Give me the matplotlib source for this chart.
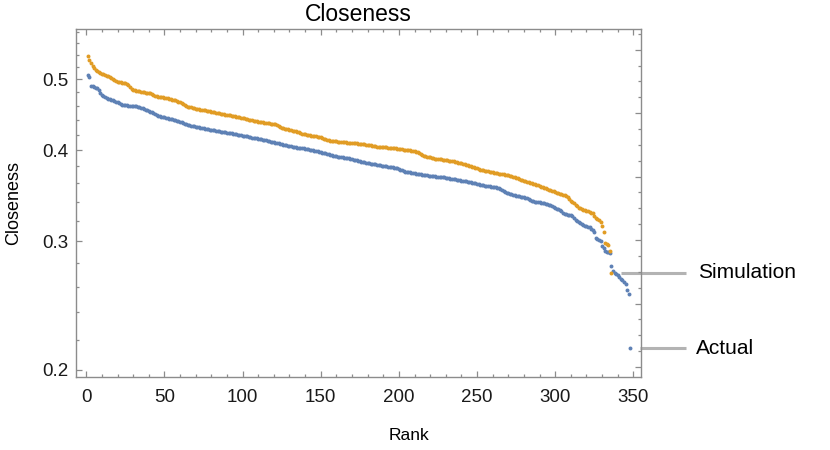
import numpy as np
import matplotlib
matplotlib.use("Agg")
import matplotlib.pyplot as plt
from matplotlib.ticker import FixedLocator, NullFormatter

plt.rcParams['font.family'] = ['Liberation Sans', 'DejaVu Sans']

title = "Closeness"
x_label = "Rank"
y_label = "Closeness"
series_names = ["Actual", "Simulation"]

simulation = [
    0.538, 0.532, 0.526, 0.521, 0.518, 0.515, 0.513, 0.511, 0.510, 0.509,
    0.508, 0.507, 0.506, 0.505, 0.5035, 0.502, 0.5005, 0.4995, 0.498, 0.4965,
    0.4955, 0.495, 0.4945, 0.494, 0.4937, 0.4932, 0.491, 0.488, 0.485, 0.4835,
    0.4828, 0.4822, 0.4817, 0.4812, 0.4808, 0.4804, 0.480, 0.4796, 0.4791, 0.4786,
    0.4782, 0.477, 0.4755, 0.4744, 0.474, 0.4735, 0.4731, 0.4727, 0.4722, 0.4718,
    0.4713, 0.4708, 0.4703, 0.4697, 0.4691, 0.4686, 0.4682, 0.4672, 0.466, 0.4648,
    0.4636, 0.4625, 0.4612, 0.4598, 0.4588, 0.458, 0.4575, 0.4569, 0.4563, 0.4557,
    0.4551, 0.4548, 0.4544, 0.454, 0.4537, 0.4533, 0.4529, 0.4525, 0.452, 0.4515,
    0.4510, 0.4505, 0.4499, 0.4494, 0.4490, 0.4486, 0.4482, 0.4478, 0.4474, 0.4470,
    0.4466, 0.4462, 0.4458, 0.4454, 0.4450, 0.4445, 0.4441, 0.4436, 0.4431, 0.4426,
    0.4420, 0.4413, 0.4406, 0.4400, 0.4396, 0.4392, 0.4388, 0.4384, 0.4381, 0.4377,
    0.4373, 0.4369, 0.4365, 0.4361, 0.4358, 0.4355, 0.4351, 0.4348, 0.4344, 0.4340,
    0.4336, 0.4325, 0.4313, 0.4302, 0.4292, 0.4284, 0.4279, 0.4274, 0.4269, 0.4264,
    0.4259, 0.4254, 0.4249, 0.4243, 0.4235, 0.4228, 0.4221, 0.4214, 0.4208, 0.4204,
    0.4200, 0.4196, 0.4192, 0.4188, 0.4184, 0.4180, 0.4176, 0.4173, 0.4168, 0.4162,
    0.4155, 0.4148, 0.4141, 0.4134, 0.4127, 0.4121, 0.4117, 0.4115, 0.4113, 0.4111,
    0.4109, 0.4107, 0.4105, 0.4102, 0.4100, 0.4098, 0.4096, 0.4094, 0.4092, 0.4090,
    0.4088, 0.4086, 0.4084, 0.4082, 0.4080, 0.4078, 0.4075, 0.4072, 0.4069, 0.4066,
    0.4063, 0.4060, 0.4056, 0.4053, 0.4049, 0.4045, 0.4043, 0.4041, 0.4039, 0.4037,
    0.4035, 0.4033, 0.4031, 0.4029, 0.4027, 0.4025, 0.4023, 0.4020, 0.4017, 0.4014,
    0.4012, 0.4009, 0.4006, 0.4003, 0.4000, 0.3997, 0.3995, 0.3993, 0.3988, 0.3983,
    0.3978, 0.3973, 0.3962, 0.3950, 0.3939, 0.3929, 0.3924, 0.3919, 0.3913, 0.3908,
    0.3903, 0.3898, 0.3895, 0.3892, 0.3890, 0.3887, 0.3884, 0.3881, 0.3878, 0.3875,
    0.3872, 0.3869, 0.3866, 0.3863, 0.3859, 0.3856, 0.3851, 0.3846, 0.3841, 0.3836,
    0.3831, 0.3826, 0.3821, 0.3817, 0.3810, 0.3803, 0.3796, 0.3789, 0.3782, 0.3775,
    0.3768, 0.3762, 0.3757, 0.3753, 0.3749, 0.3745, 0.3741, 0.3737, 0.3733, 0.3729,
    0.3726, 0.3722, 0.3718, 0.3715, 0.3711, 0.3707, 0.3704, 0.3700, 0.3697, 0.3693,
    0.3690, 0.3686, 0.3679, 0.3672, 0.3665, 0.3658, 0.3651, 0.3644, 0.3638, 0.3632,
    0.3626, 0.3620, 0.3614, 0.3608, 0.3602, 0.3596, 0.3591, 0.3584, 0.3578, 0.3571,
    0.3565, 0.3558, 0.3552, 0.3545, 0.3539, 0.3532, 0.3525, 0.3518, 0.3511, 0.3504,
    0.3497, 0.3491, 0.3485, 0.3479, 0.3473, 0.3467, 0.3461, 0.3445, 0.3428, 0.3410,
    0.3395, 0.3380, 0.3365, 0.3350, 0.3336, 0.3329, 0.3322, 0.3315, 0.3309, 0.3302,
    0.3297, 0.3291, 0.3285, 0.3279, 0.3250, 0.3229, 0.3215, 0.3205, 0.3186, 0.3150,
    0.3090, 0.2988, 0.2978, 0.2970, 0.2909, 0.2716,
]

actual = [
    0.5068, 0.5032, 0.4900, 0.4890, 0.4878, 0.4867, 0.4858, 0.4830, 0.4795, 0.4759,
    0.4742, 0.4725, 0.4709, 0.4701, 0.4694, 0.4686, 0.4678, 0.4670, 0.4660, 0.4648,
    0.4636, 0.4624, 0.4618, 0.4613, 0.4608, 0.4604, 0.4600, 0.4597, 0.4595, 0.4593,
    0.4591, 0.4589, 0.4586, 0.4578, 0.4570, 0.4562, 0.4554, 0.4545, 0.4535, 0.4525,
    0.4515, 0.4504, 0.4491, 0.4479, 0.4466, 0.4454, 0.4449, 0.4444, 0.4439, 0.4433,
    0.4428, 0.4423, 0.4418, 0.4412, 0.4406, 0.4401, 0.4395, 0.4389, 0.4384, 0.4376,
    0.4367, 0.4358, 0.4349, 0.4339, 0.4330, 0.4325, 0.4320, 0.4315, 0.4310, 0.4305,
    0.4300, 0.4297, 0.4292, 0.4288, 0.4284, 0.4280, 0.4275, 0.4271, 0.4267, 0.4264,
    0.4260, 0.4256, 0.4252, 0.4249, 0.4245, 0.4241, 0.4238, 0.4234, 0.4230, 0.4227,
    0.4223, 0.4219, 0.4216, 0.4212, 0.4208, 0.4204, 0.4200, 0.4196, 0.4192, 0.4188,
    0.4184, 0.4179, 0.4175, 0.4171, 0.4166, 0.4161, 0.4156, 0.4152, 0.4149, 0.4145,
    0.4142, 0.4139, 0.4135, 0.4131, 0.4124, 0.4118, 0.4113, 0.4108, 0.4103, 0.4098,
    0.4093, 0.4088, 0.4084, 0.4079, 0.4074, 0.4070, 0.4066, 0.4061, 0.4057, 0.4052,
    0.4048, 0.4043, 0.4038, 0.4035, 0.4032, 0.4029, 0.4026, 0.4023, 0.4020, 0.4016,
    0.4013, 0.4010, 0.4006, 0.4001, 0.3997, 0.3993, 0.3988, 0.3984, 0.3979, 0.3974,
    0.3969, 0.3963, 0.3958, 0.3953, 0.3947, 0.3942, 0.3937, 0.3931, 0.3926, 0.3923,
    0.3919, 0.3916, 0.3913, 0.3910, 0.3907, 0.3904, 0.3900, 0.3896, 0.3891, 0.3886,
    0.3881, 0.3876, 0.3871, 0.3866, 0.3861, 0.3856, 0.3852, 0.3848, 0.3845, 0.3841,
    0.3837, 0.3834, 0.3830, 0.3826, 0.3823, 0.3820, 0.3816, 0.3813, 0.3809, 0.3806,
    0.3802, 0.3799, 0.3796, 0.3793, 0.3790, 0.3787, 0.3784, 0.3781, 0.3778, 0.3771,
    0.3762, 0.3753, 0.3744, 0.3736, 0.3733, 0.3730, 0.3727, 0.3724, 0.3720, 0.3717,
    0.3713, 0.3710, 0.3707, 0.3704, 0.3702, 0.3699, 0.3696, 0.3693, 0.3691, 0.3688,
    0.3686, 0.3684, 0.3682, 0.3680, 0.3679, 0.3677, 0.3675, 0.3673, 0.3671, 0.3668,
    0.3664, 0.3660, 0.3656, 0.3653, 0.3650, 0.3647, 0.3644, 0.3641, 0.3637, 0.3634,
    0.3631, 0.3628, 0.3625, 0.3621, 0.3617, 0.3612, 0.3608, 0.3604, 0.3600, 0.3596,
    0.3591, 0.3587, 0.3583, 0.3580, 0.3577, 0.3575, 0.3572, 0.3569, 0.3566, 0.3563,
    0.3560, 0.3557, 0.3554, 0.3545, 0.3535, 0.3525, 0.3515, 0.3505, 0.3497, 0.3491,
    0.3486, 0.3481, 0.3476, 0.3471, 0.3466, 0.3461, 0.3457, 0.3453, 0.3449, 0.3445,
    0.3441, 0.3437, 0.3430, 0.3421, 0.3412, 0.3404, 0.3400, 0.3397, 0.3395, 0.3392,
    0.3389, 0.3386, 0.3383, 0.3378, 0.3372, 0.3367, 0.3361, 0.3356, 0.3346, 0.3336,
    0.3326, 0.3317, 0.3310, 0.3296, 0.3283, 0.3271, 0.3267, 0.3263, 0.3259, 0.3255,
    0.3251, 0.3230, 0.3210, 0.3200, 0.3190, 0.3180, 0.3170, 0.3159, 0.3153, 0.3147,
    0.3141, 0.3136, 0.3120, 0.3105, 0.3093, 0.3030, 0.3018, 0.3010, 0.3002, 0.2957,
    0.2935, 0.2912, 0.2905, 0.2897, 0.2889, 0.2776, 0.2730, 0.2715, 0.2705, 0.2695,
    0.2680, 0.2668, 0.2656, 0.2640, 0.2623, 0.2570, 0.2545, 0.2140,
]

x_major = [0, 50, 100, 150, 200, 250, 300, 350]
x_minor = list(range(0, 360, 10))
y_major = [0.2, 0.3, 0.4, 0.5]
y_major_labels = ["0.2", "0.3", "0.4", "0.5"]
y_minor = [0.22, 0.24, 0.26, 0.28, 0.32, 0.34, 0.36, 0.38,
           0.42, 0.44, 0.46, 0.48, 0.52, 0.54, 0.56, 0.58]

BLUE = "#5E81B5"
ORANGE = "#E19C24"
FRAME = "#8c8c8c"

fig = plt.figure(figsize=(8.3, 4.5), dpi=100)
ax = fig.add_axes([75.8 / 830, 1 - 377 / 450, (641 - 75.8) / 830, (377 - 29) / 450])

ax.set_yscale("log")
ax.set_xlim(-6.7, 354.9)
ax.set_ylim(0.1956, 0.5859)

r_act = np.arange(1, len(actual) + 1)
r_sim = np.arange(1, len(simulation) + 1)
ax.scatter(r_act, actual, s=8, color=BLUE, linewidths=0, zorder=3)
ax.scatter(r_sim, simulation, s=8, color=ORANGE, linewidths=0, zorder=3)

# ticks
ax.xaxis.set_major_locator(FixedLocator(x_major))
ax.xaxis.set_minor_locator(FixedLocator([v for v in x_minor if v not in x_major]))
ax.set_xticklabels([str(v) for v in x_major])
ax.yaxis.set_major_locator(FixedLocator(y_major))
ax.yaxis.set_minor_locator(FixedLocator(y_minor))
ax.set_yticklabels(y_major_labels)
ax.yaxis.set_minor_formatter(NullFormatter())

ax.tick_params(which="both", direction="in", color=FRAME, width=0.9,
               top=True, right=False, labelsize=13.5, labelcolor="#1a1a1a")
ax.tick_params(which="major", length=4.5)
ax.tick_params(which="minor", length=2.5)
ax.tick_params(axis="x", which="major", pad=9)
ax.tick_params(axis="y", which="major", pad=5.5)
for s in ax.spines.values():
    s.set_color(FRAME)
    s.set_linewidth(1.0)

# right frame ticks: uniform steps in log value
ax2 = ax.twinx()
ax2.set_yscale("log")
ax2.set_ylim(ax.get_ylim())
r_major = [np.exp(v) for v in [-1.6, -1.4, -1.2, -1.0, -0.8, -0.6]]
r_minor = [np.exp(-1.6 + 0.05 * k) for k in range(0, 22) if k % 4 != 0]
ax2.yaxis.set_major_locator(FixedLocator(r_major))
ax2.yaxis.set_minor_locator(FixedLocator(r_minor))
ax2.yaxis.set_major_formatter(NullFormatter())
ax2.yaxis.set_minor_formatter(NullFormatter())
ax2.tick_params(which="both", direction="in", color=FRAME, width=0.9)
ax2.tick_params(which="major", length=4.5)
ax2.tick_params(which="minor", length=2.5)
for s in ax2.spines.values():
    s.set_visible(False)

ax.set_title(title, fontsize=16.5, pad=6, color="#000000")
ax.set_xlabel(x_label, fontsize=12.5)
ax.xaxis.set_label_coords(0.5895, -0.1466)
ax.set_ylabel(y_label, fontsize=13)
ax.yaxis.set_label_coords(-0.095, 0.5)

# callout labels
LEAD = "#b3b3b3"
ax.plot([r_sim[-1] + 6, 383.6], [simulation[-1], simulation[-1]], color=LEAD,
        lw=2.2, clip_on=False, zorder=2, solid_capstyle="butt")
ax.text(391.3, simulation[-1], series_names[1], fontsize=15, ha="left",
        va="center", clip_on=False)
ax.plot([354.5, 383.6], [actual[-1], actual[-1]], color=LEAD,
        lw=2.2, clip_on=False, zorder=2, solid_capstyle="butt")
ax.text(389.8, actual[-1], series_names[0], fontsize=15, ha="left",
        va="center", clip_on=False)

fig.savefig("out.png", dpi=100)
